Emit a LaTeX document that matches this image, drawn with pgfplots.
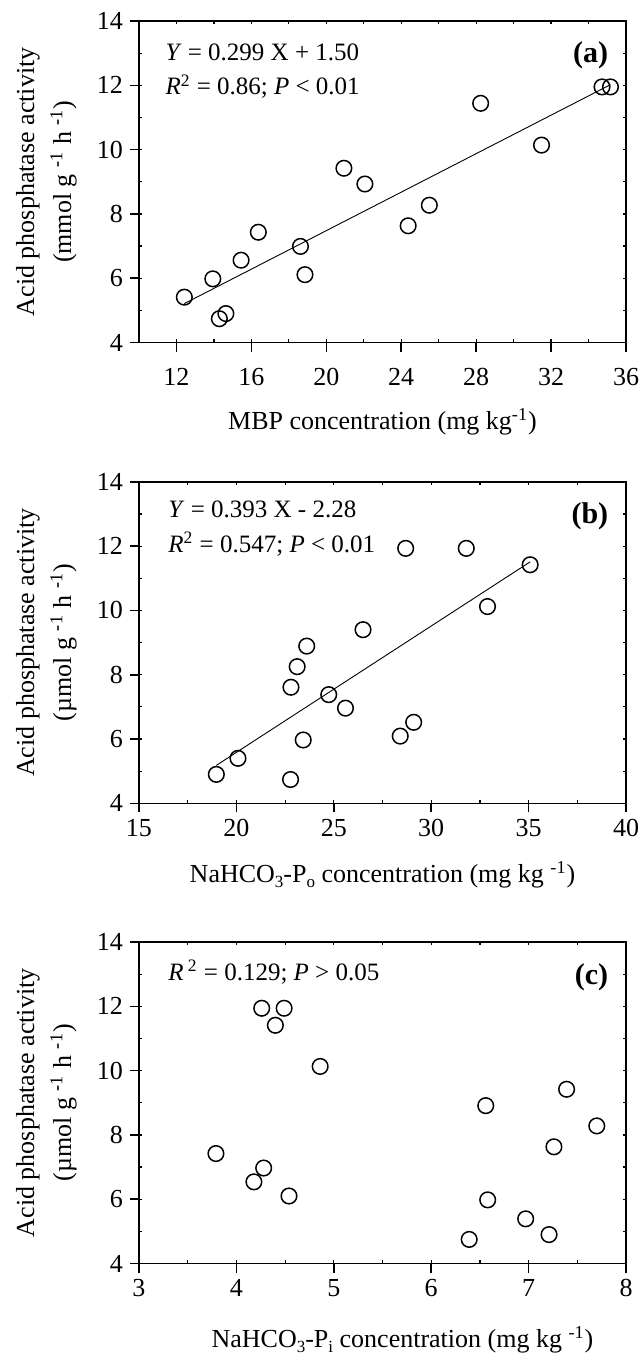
\documentclass[border=0pt]{standalone}
\usepackage{fontspec}
\setmainfont{Liberation Serif}
\usepackage{pgfplots}
\pgfplotsset{compat=1.18}
\newcommand\fs{\fontsize{13}{18.5}\selectfont}
\newcommand\an{\fontsize{12.5}{15}\selectfont}
\newcommand\pl{\fontsize{15}{17}\selectfont\bfseries}
\newcommand\sub[1]{\raisebox{-0.45ex}{\fontsize{8.5}{9}\selectfont #1}}

\pgfplotsset{
  panel/.style={
    at={(0pt,#1)}, anchor=north west,
    width=243.5pt, height=160.75pt, scale only axis,
    ymin=4, ymax=14, ytick={4,6,...,14},
    axis line style={line width=0.8pt},
    tick style={line width=0.8pt, black},
    tick align=outside, tick pos=left,
    major tick length=4.5pt,
    /pgf/number format/assume math mode=true,
    tick label style={font=\fs},
    label style={font=\fs},
    ylabel style={align=center, at={(axis description cs:-0.19,0.5)}, anchor=center},
  },
  inner/.style={
    at={(0pt,#1)}, anchor=north west,
    width=243.5pt, height=160.75pt, scale only axis,
    ymin=4, ymax=14, ytick={4,5,...,14},
    axis line style={draw=none},
    tick style={line width=0.6pt, black},
    tick align=inside, tick pos=both,
    major tick length=1.6pt,
    xticklabels={}, yticklabels={},
  },
  pts/.style={only marks, mark=o, mark size=3.9pt, mark options={line width=0.75pt}, black},
  fit/.style={black, line width=0.45pt, mark=none},
}

\begin{document}
\begin{tikzpicture}
\useasboundingbox (-69.5pt,10.5pt) rectangle (251pt,-672pt);

% (a)
\begin{axis}[inner=0pt, xmin=10, xmax=36, xtick={10,12,...,36}]
\end{axis}
\begin{axis}[panel=0pt, xmin=10, xmax=36, xtick={12,16,...,36},
  xticklabel style={yshift=-5pt},
  xlabel={MBP concentration (mg kg\textsuperscript{-1})},
  xlabel style={at={(axis description cs:0.5,0)}, anchor=base, yshift=-43.5pt},
  ylabel={Acid phosphatase activity\\(mmol g \textsuperscript{\textbf{-}1} h \textsuperscript{\textbf{-}1})}]
\addplot[pts] coordinates {
  (12.42,5.41) (13.94,5.98) (14.29,4.74) (14.64,4.90) (15.45,6.56) (16.37,7.43)
  (18.62,6.99) (18.86,6.11) (20.94,9.42) (22.06,8.93) (24.37,7.63) (25.50,8.27)
  (28.24,11.44) (31.49,10.14) (34.72,11.95) (35.17,11.95)
};
\addplot[fit] coordinates {(12.42,5.21) (35.17,12.02)};
\node[anchor=base west, font=\an] at (rel axis cs:0.04,0.876) {\textit{Y} = 0.299 X + 1.50};
\node[anchor=base west, font=\an] at (rel axis cs:0.04,0.770) {\textit{R}\textsuperscript{2} = 0.86; \textit{P} < 0.01};
\node[anchor=base east, font=\pl] at (rel axis cs:0.978,0.872) {(a)};
\end{axis}

% (b)
\begin{axis}[inner=-230.4pt, xmin=15, xmax=40, xtick={15,17.5,...,40}]
\end{axis}
\begin{axis}[panel=-230.4pt, xmin=15, xmax=40, xtick={15,20,...,40},
  xlabel={NaHCO\sub{3}-P\sub{o} concentration (mg kg \textsuperscript{-1})},
  xlabel style={at={(axis description cs:0.5,0)}, anchor=base, yshift=-39.5pt},
  ylabel={Acid phosphatase activity\\(µmol g \textsuperscript{\textbf{-}1} h \textsuperscript{\textbf{-}1})}]
\addplot[pts] coordinates {
  (28.69,11.93) (31.80,11.93) (35.08,11.42) (32.89,10.12) (26.50,9.40) (23.61,8.89)
  (23.12,8.25) (22.80,7.61) (24.74,7.38) (25.60,6.96) (29.10,6.52) (28.41,6.09)
  (23.43,5.97) (18.97,4.90) (20.08,5.40) (22.78,4.74)
};
\addplot[fit] coordinates {(18.97,5.18) (35.08,11.51)};
\node[anchor=base west, font=\an] at (rel axis cs:0.046,0.888) {\textit{Y} = 0.393 X - 2.28};
\node[anchor=base west, font=\an] at (rel axis cs:0.046,0.780) {\textit{R}\textsuperscript{2} = 0.547; \textit{P} < 0.01};
\node[anchor=base east, font=\pl] at (rel axis cs:0.978,0.869) {(b)};
\end{axis}

% (c)
\begin{axis}[inner=-460.5pt, xmin=3, xmax=8, xtick={3,3.5,...,8}]
\end{axis}
\begin{axis}[panel=-460.5pt, xmin=3, xmax=8, xtick={3,4,...,8},
  xlabel={NaHCO\sub{3}-P\sub{i} concentration (mg kg \textsuperscript{-1})},
  xlabel style={at={(axis description cs:0.5,0)}, anchor=base, yshift=-42pt, xshift=10pt},
  ylabel={Acid phosphatase activity\\(µmol g \textsuperscript{\textbf{-}1} h \textsuperscript{\textbf{-}1})}]
\addplot[pts] coordinates {
  (4.26,11.94) (4.49,11.94) (4.40,11.41) (4.86,10.13) (6.56,8.91) (7.39,9.42)
  (7.70,8.28) (7.26,7.63) (3.79,7.42) (4.28,6.97) (4.18,6.54) (4.54,6.10)
  (6.58,5.98) (6.97,5.39) (7.21,4.90) (6.39,4.75)
};
\node[anchor=base west, font=\an] at (rel axis cs:0.046,0.880) {\textit{R}\,\textsuperscript{2} = 0.129; \textit{P} > 0.05};
\node[anchor=base east, font=\pl] at (rel axis cs:0.978,0.869) {(c)};
\end{axis}
\end{tikzpicture}
\end{document}
